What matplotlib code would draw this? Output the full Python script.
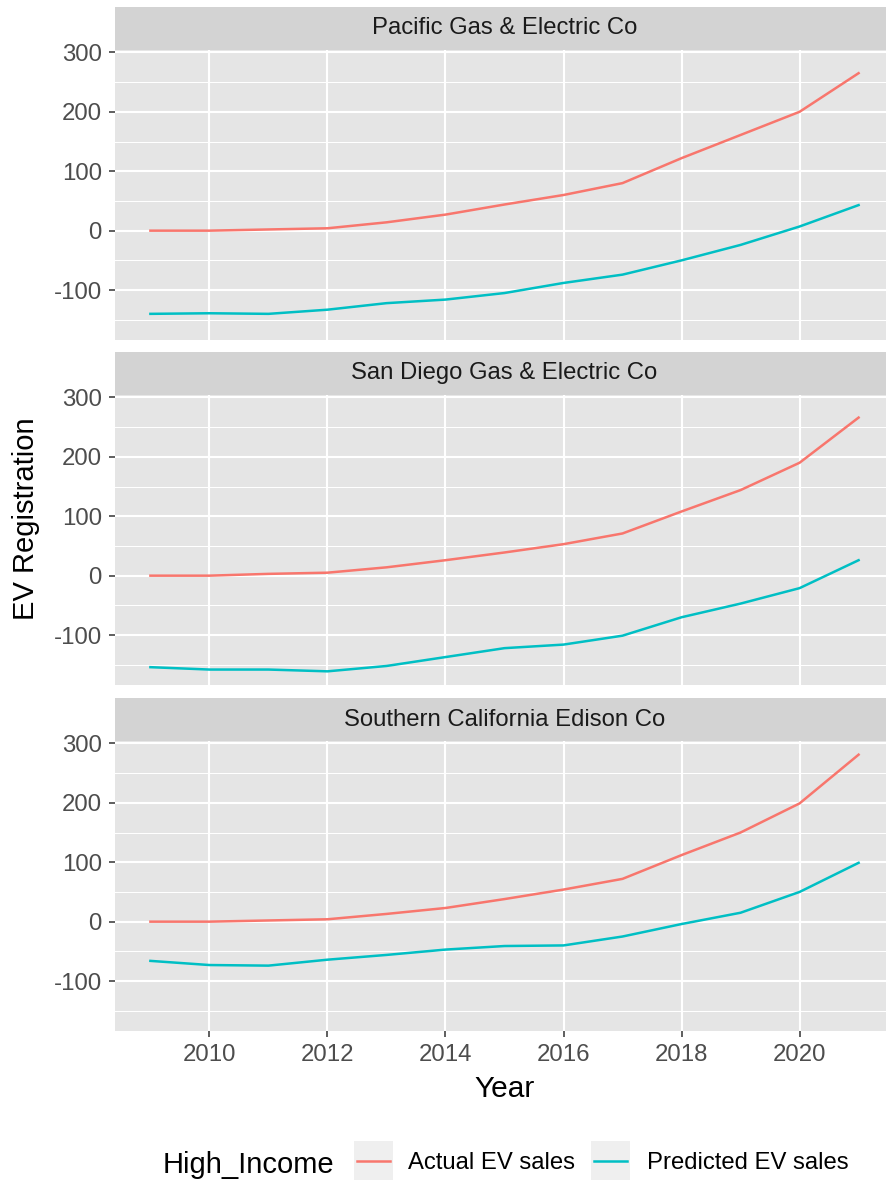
import numpy as np
import matplotlib
matplotlib.use("Agg")
import matplotlib.pyplot as plt
from matplotlib.patches import Rectangle
from matplotlib.lines import Line2D

plt.rcParams["font.family"] = ["Liberation Sans", "DejaVu Sans"]
plt.rcParams["axes.unicode_minus"] = False

# data
years = [2009, 2010, 2011, 2012, 2013, 2014, 2015, 2016, 2017, 2018, 2019, 2020, 2021]
utilities = ["Pacific Gas & Electric Co", "San Diego Gas & Electric Co", "Southern California Edison Co"]

pge_actual    = [0, 0, 2, 4, 14, 27, 44, 60, 80, 122, 161, 200, 265]
pge_predicted = [-140, -139, -140, -133, -122, -116, -105, -88, -74, -50, -24, 7, 43]
sdge_actual    = [0, 0, 3, 5, 14, 26, 39, 53, 71, 108, 144, 190, 266]
sdge_predicted = [-154, -158, -158, -161, -152, -137, -122, -116, -101, -70, -47, -21, 26]
sce_actual    = [0, 0, 2, 4, 13, 23, 38, 54, 72, 112, 150, 199, 281]
sce_predicted = [-66, -73, -74, -64, -56, -47, -41, -40, -25, -4, 15, 50, 99]

actual = [pge_actual, sdge_actual, sce_actual]
predicted = [pge_predicted, sdge_predicted, sce_predicted]

series_labels = ["Actual EV sales", "Predicted EV sales"]
legend_title = "High_Income"

RED, CYAN = "#F8766D", "#00BFC4"
PANEL_BG, STRIP_BG = "#E5E5E5", "#D3D3D3"

W, H = 886, 1182
fig = plt.figure(figsize=(W / 100, H / 100), dpi=100)


def box(x0, y0, x1, y1):
    # pixel box (top-left origin) -> figure fraction rect
    return [x0 / W, 1 - y1 / H, (x1 - x0) / W, (y1 - y0) / H]


left, right = 115, 894
panel_tops = [50, 395, 741]
panel_h = 290
strip_h = 43

ymin, ymax = -184, 304
xmin, xmax = 2008.4, 2021.6

for i, name in enumerate(utilities):
    top = panel_tops[i]
    ax = fig.add_axes(box(left, top, right, top + panel_h))
    ax.set_facecolor(PANEL_BG)
    for s in ax.spines.values():
        s.set_visible(False)
    ax.set_xlim(xmin, xmax)
    ax.set_ylim(ymin, ymax)
    ax.set_yticks([-100, 0, 100, 200, 300])
    ax.set_yticks([-150, -50, 50, 150, 250], minor=True)
    ax.set_xticks([2010, 2012, 2014, 2016, 2018, 2020])
    ax.grid(which="major", color="white", linewidth=1.5)
    ax.grid(which="minor", axis="y", color="white", linewidth=0.75)
    ax.set_axisbelow(True)
    ax.tick_params(which="minor", length=0)
    ax.tick_params(axis="y", which="major", length=4.5, width=1.1, color="#333333",
                   labelsize=17.3, labelcolor="#4D4D4D", pad=5)
    ax.tick_params(axis="x", which="major", length=4.5, width=1.1, color="#333333",
                   labelsize=17.3, labelcolor="#4D4D4D", pad=5)
    if i < 2:
        ax.tick_params(axis="x", labelbottom=False, length=0)

    ax.plot(years, actual[i], color=RED, linewidth=1.8)
    ax.plot(years, predicted[i], color=CYAN, linewidth=1.8)

    sax = fig.add_axes(box(left, top - strip_h, right, top))
    sax.set_facecolor(STRIP_BG)
    sax.set_xticks([])
    sax.set_yticks([])
    for s in sax.spines.values():
        s.set_visible(False)
    fig.text((left + right) / 2 / W, 1 - (top - strip_h / 2) / H, name,
             ha="center", va="center", fontsize=17.2, color="#1A1A1A")

# axis titles
fig.text((left + right) / 2 / W, 1 - 1097 / H, "Year", ha="center", va="baseline",
         fontsize=21.5, color="black")
fig.text(26 / W, 1 - 519 / H, "EV Registration", ha="center", va="center",
         rotation=90, fontsize=21, color="black")

# legend at the bottom
fig.text(163 / W, 1 - 1173 / H, legend_title, ha="left", va="baseline", fontsize=21)
key_x = [354, 591]
label_x = [408, 647]
for kx, lx, col, lab in zip(key_x, label_x, [RED, CYAN], series_labels):
    fig.add_artist(Rectangle((kx / W, 1 - 1180 / H), 39 / W, 39 / H,
                             transform=fig.transFigure, facecolor="#EFEFEF",
                             edgecolor="none"))
    fig.add_artist(Line2D([(kx + 3) / W, (kx + 36) / W], [1 - 1161 / H, 1 - 1161 / H],
                          transform=fig.transFigure, color=col, linewidth=1.8))
    fig.text(lx / W, 1 - 1169 / H, lab, ha="left", va="baseline", fontsize=17.2)

fig.savefig("out.png", dpi=100, facecolor="white")
